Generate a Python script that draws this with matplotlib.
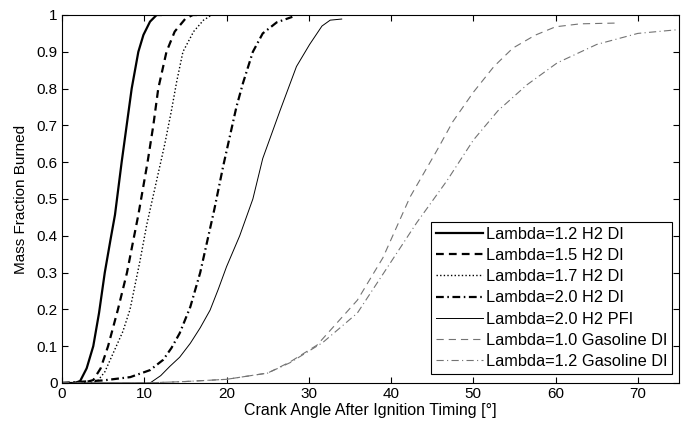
import matplotlib
matplotlib.use("Agg")
import matplotlib.pyplot as plt

plt.rcParams['font.family'] = ['Liberation Sans', 'DejaVu Sans']

labels = ["Lambda=1.2 H2 DI", "Lambda=1.5 H2 DI", "Lambda=1.7 H2 DI",
          "Lambda=2.0 H2 DI", "Lambda=2.0 H2 PFI",
          "Lambda=1.0 Gasoline DI", "Lambda=1.2 Gasoline DI"]

c1_x = [0, 1.5, 2.2, 3.0, 3.8, 4.5, 5.2, 5.9, 6.44, 7.25, 7.86, 8.47, 9.28, 9.9, 10.7, 11.5, 12.0]
c1_y = [0, 0, 0.005, 0.04, 0.1, 0.19, 0.3, 0.39, 0.457, 0.6, 0.7, 0.8, 0.9, 0.946, 0.982, 1.0, 1.0]

c2_x = [0, 2.5, 3.8, 4.7, 5.6, 6.8, 7.9, 8.6, 9.28, 10.4, 11.1, 11.7, 12.7, 13.7, 15.0, 15.9, 16.5]
c2_y = [0, 0, 0.008, 0.04, 0.1, 0.2, 0.3, 0.38, 0.457, 0.6, 0.7, 0.8, 0.9, 0.955, 0.99, 1.0, 1.0]

c3_x = [0, 3.5, 4.3, 5.2, 6.6, 7.4, 8.27, 9.5, 10.3, 11.0, 11.6, 12.5, 13.3, 13.95, 14.7, 16.0, 17.2, 18.2, 19.0]
c3_y = [0, 0, 0.005, 0.03, 0.1, 0.14, 0.2, 0.334, 0.43, 0.5, 0.56, 0.65, 0.74, 0.82, 0.9, 0.955, 0.986, 1.0, 1.0]

c4_x = [0, 2, 5, 8.3, 10.7, 12.3, 13.3, 14.3, 15.6, 16.8, 17.7, 18.5, 19.6, 20.4, 21.2, 22.0, 23.2, 24.4, 26.1, 28]
c4_y = [0, 0.003, 0.007, 0.016, 0.035, 0.063, 0.095, 0.135, 0.207, 0.3, 0.39, 0.47, 0.59, 0.67, 0.75, 0.815, 0.9, 0.95, 0.98, 0.995]

c5_x = [0, 10.7, 12, 13.1, 14.3, 15.6, 16.8, 18.0, 19.0, 20.0, 21.6, 23.2, 24.4, 26.5, 28.5, 30.1, 31.6, 32.6, 34]
c5_y = [0, 0, 0.02, 0.045, 0.07, 0.108, 0.15, 0.198, 0.255, 0.316, 0.4, 0.5, 0.61, 0.74, 0.86, 0.92, 0.97, 0.986, 0.989]

c6_x = [0, 10, 15, 20, 25, 27.7, 31, 35.9, 39, 42.3, 45.6, 47.5, 50, 52.5, 54.8, 57.5, 60, 63, 67.2]
c6_y = [0, 0, 0.004, 0.01, 0.027, 0.057, 0.103, 0.225, 0.34, 0.505, 0.633, 0.71, 0.79, 0.86, 0.91, 0.945, 0.968, 0.976, 0.978]

c7_x = [0, 10, 15, 20, 25, 27.7, 31.7, 35.9, 39.9, 43.1, 46.8, 50, 53, 56.5, 60.2, 65, 70, 74.8]
c7_y = [0, 0, 0.004, 0.01, 0.027, 0.055, 0.11, 0.19, 0.326, 0.435, 0.55, 0.66, 0.74, 0.81, 0.87, 0.92, 0.95, 0.96]

x_ticks = [0, 10, 20, 30, 40, 50, 60, 70]
y_ticks = [0, 0.1, 0.2, 0.3, 0.4, 0.5, 0.6, 0.7, 0.8, 0.9, 1]
y_tick_labels = ["0", "0.1", "0.2", "0.3", "0.4", "0.5", "0.6", "0.7", "0.8", "0.9", "1"]

fig = plt.figure(figsize=(6.86, 4.25), dpi=100)
ax = fig.add_axes([62/686, 1-383/425, 617/686, 368/425])

ax.plot(c1_x, c1_y, color='k', lw=1.6, label=labels[0])
ax.plot(c2_x, c2_y, color='k', lw=1.6, dashes=(3.5, 2.3), label=labels[1])
ax.plot(c3_x, c3_y, color='k', lw=1.0, dashes=(1, 1.6), label=labels[2])
ax.plot(c4_x, c4_y, color='k', lw=1.6, dashes=(3.5, 1.6, 0.7, 1.6), label=labels[3])
ax.plot(c5_x, c5_y, color='k', lw=0.7, label=labels[4])
ax.plot(c6_x, c6_y, color='0.45', lw=0.8, dashes=(6.5, 4.5), label=labels[5])
ax.plot(c7_x, c7_y, color='0.45', lw=0.8, dashes=(6.5, 3, 1, 3), label=labels[6])

ax.set_xlim(0, 75)
ax.set_ylim(0, 1)
ax.set_xticks(x_ticks)
ax.set_xticklabels([str(v) for v in x_ticks])
ax.set_yticks(y_ticks)
ax.set_yticklabels(y_tick_labels)
ax.tick_params(direction='in', top=True, right=True, length=4, width=0.8,
               labelsize=11, pad=3)
for s in ax.spines.values():
    s.set_linewidth(0.8)

ax.set_xlabel("Crank Angle After Ignition Timing [°]", fontsize=11.5, labelpad=1)
ax.set_ylabel("Mass Fraction Burned", fontsize=11, labelpad=6)

leg = ax.legend(loc='lower right', bbox_to_anchor=((672-62)/617, (383-374)/368),
                borderaxespad=0, fontsize=11.8, frameon=True, fancybox=False,
                edgecolor='k', framealpha=1, handlelength=2.9, handletextpad=0.15,
                labelspacing=0.38, borderpad=0.3)
leg.get_frame().set_linewidth(0.8)

fig.savefig("out.png", dpi=100)
